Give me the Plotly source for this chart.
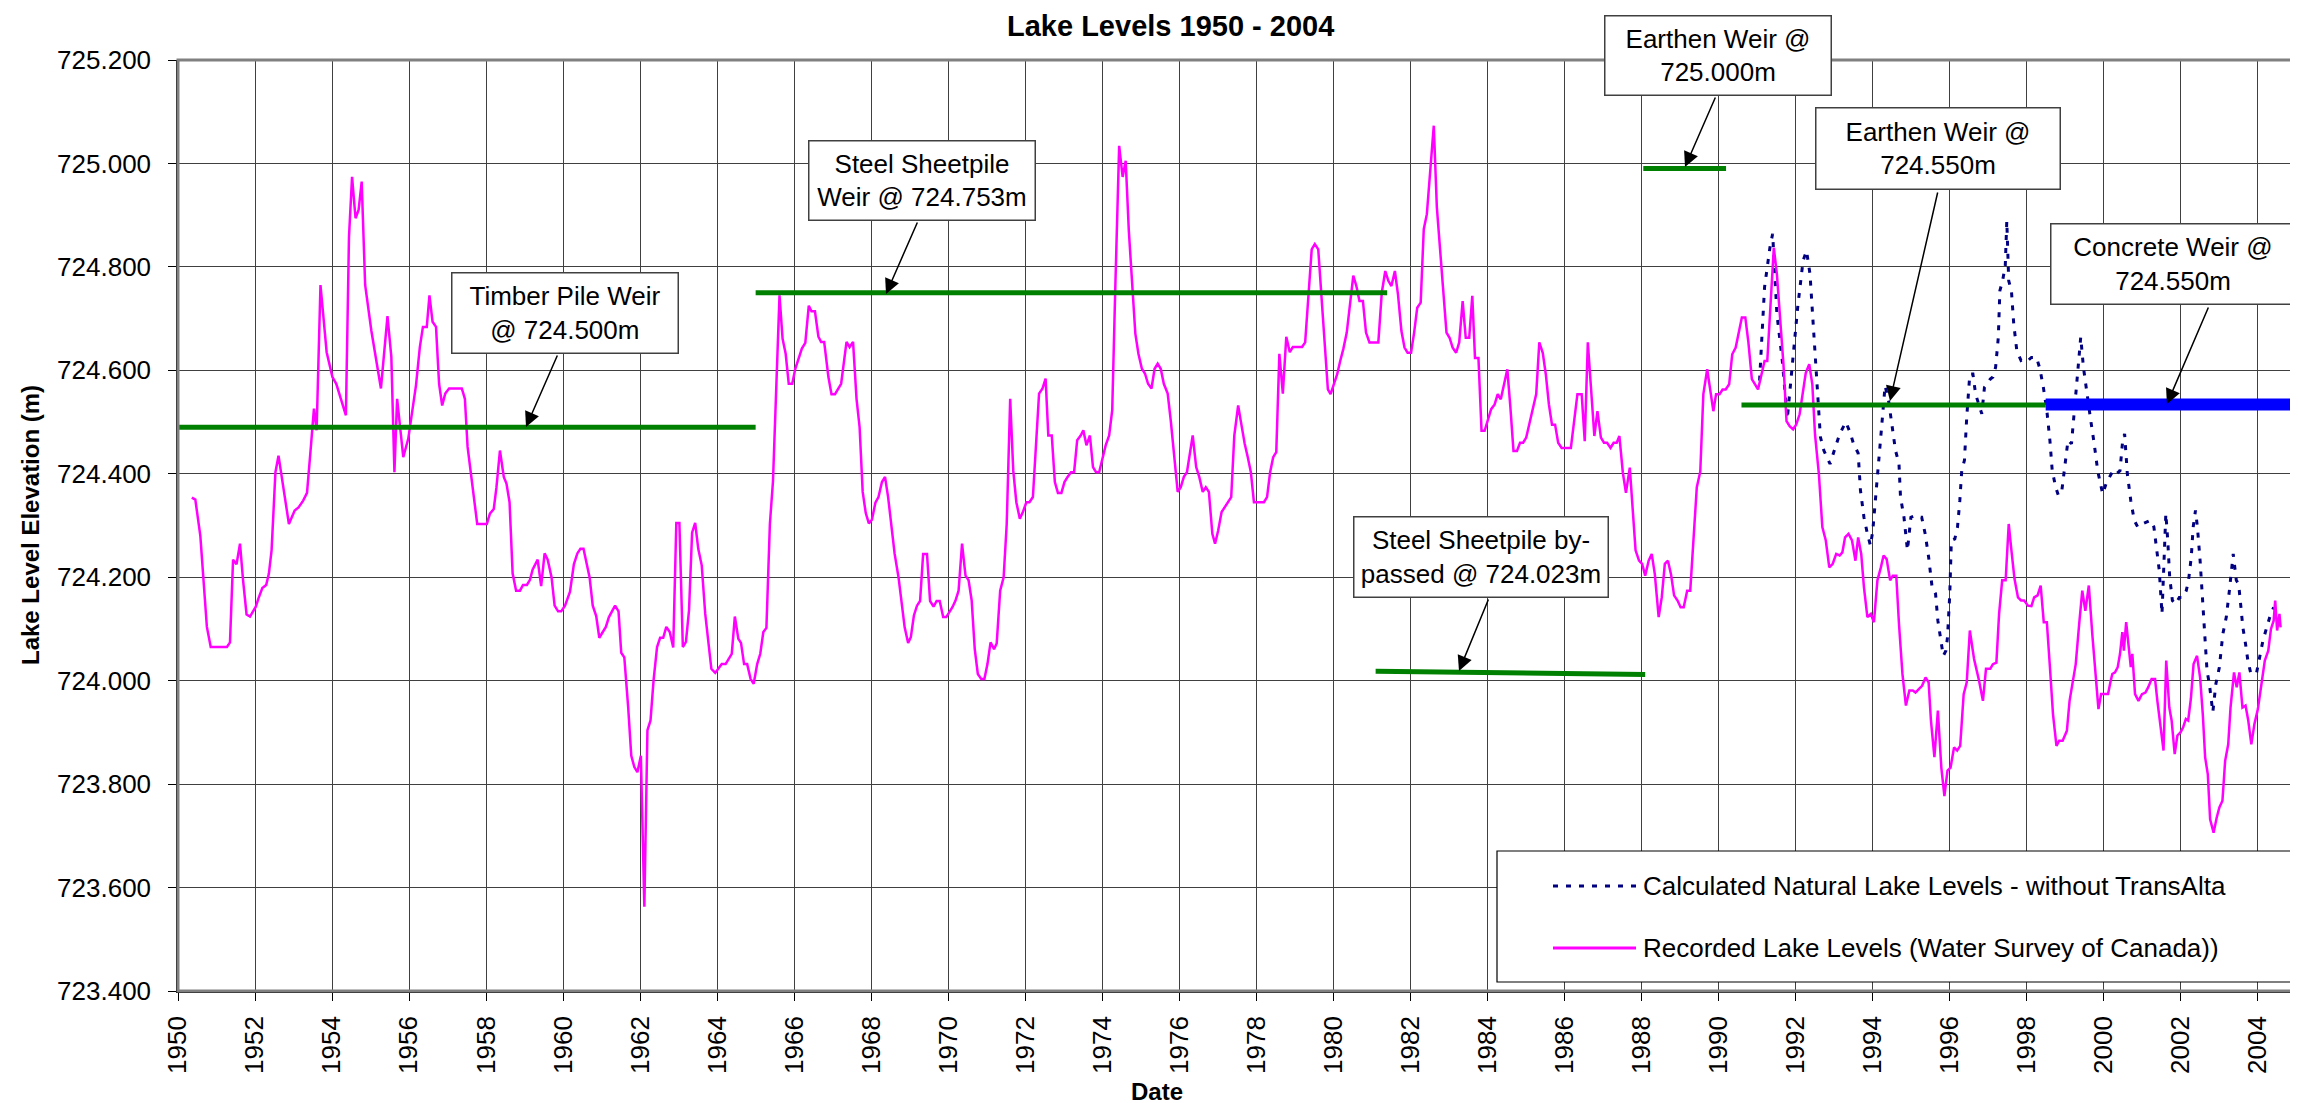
import plotly.graph_objects as go

# ---------------- data ----------------
recorded_year = [
    1950.36, 1950.45, 1950.58, 1950.75, 1950.85, 1951.27, 1951.35, 1951.43, 1951.52, 1951.61,
    1951.69, 1951.78, 1951.87, 1952.02, 1952.09, 1952.19, 1952.29, 1952.36, 1952.43, 1952.53,
    1952.61, 1952.76, 1952.88, 1953.03, 1953.13, 1953.25, 1953.35, 1953.45, 1953.53, 1953.60,
    1953.70, 1953.86, 1954.01, 1954.11, 1954.36, 1954.44, 1954.52, 1954.61, 1954.69, 1954.77,
    1954.86, 1955.02, 1955.27, 1955.44, 1955.54, 1955.62, 1955.69, 1955.85, 1955.98, 1956.18,
    1956.28, 1956.36, 1956.46, 1956.53, 1956.61, 1956.70, 1956.78, 1956.86, 1956.94, 1957.04,
    1957.37, 1957.45, 1957.52, 1957.77, 1958.02, 1958.10, 1958.20, 1958.27, 1958.36, 1958.46,
    1958.53, 1958.61, 1958.69, 1958.78, 1958.88, 1958.96, 1959.06, 1959.14, 1959.21, 1959.34,
    1959.43, 1959.52, 1959.60, 1959.70, 1959.78, 1959.87, 1959.95, 1960.05, 1960.18, 1960.28,
    1960.37, 1960.45, 1960.53, 1960.69, 1960.77, 1960.86, 1960.94, 1961.11, 1961.19, 1961.35,
    1961.44, 1961.51, 1961.59, 1961.69, 1961.77, 1961.85, 1961.93, 1962.02, 1962.11, 1962.19,
    1962.27, 1962.35, 1962.44, 1962.52, 1962.60, 1962.68, 1962.77, 1962.86, 1962.94, 1963.02,
    1963.11, 1963.19, 1963.27, 1963.35, 1963.43, 1963.51, 1963.60, 1963.69, 1963.85, 1963.95,
    1964.12, 1964.22, 1964.38, 1964.46, 1964.55, 1964.62, 1964.70, 1964.78, 1964.87, 1964.95,
    1965.04, 1965.12, 1965.20, 1965.28, 1965.37, 1965.45, 1965.54, 1965.62, 1965.70, 1965.78,
    1965.86, 1965.95, 1966.03, 1966.11, 1966.20, 1966.29, 1966.38, 1966.45, 1966.54, 1966.63,
    1966.70, 1966.78, 1966.89, 1966.97, 1967.06, 1967.22, 1967.36, 1967.44, 1967.53, 1967.62,
    1967.70, 1967.78, 1967.86, 1967.94, 1968.02, 1968.11, 1968.19, 1968.28, 1968.36, 1968.44,
    1968.61, 1968.71, 1968.79, 1968.87, 1968.96, 1969.03, 1969.11, 1969.19, 1969.27, 1969.35,
    1969.45, 1969.53, 1969.62, 1969.70, 1969.78, 1969.87, 1969.95, 1970.03, 1970.11, 1970.19,
    1970.27, 1970.36, 1970.45, 1970.53, 1970.61, 1970.69, 1970.77, 1970.86, 1970.94, 1971.02,
    1971.10, 1971.19, 1971.26, 1971.35, 1971.44, 1971.52, 1971.61, 1971.69, 1971.77, 1971.86,
    1971.94, 1972.03, 1972.11, 1972.20, 1972.28, 1972.36, 1972.45, 1972.53, 1972.60, 1972.69,
    1972.77, 1972.85, 1972.94, 1973.02, 1973.10, 1973.19, 1973.27, 1973.35, 1973.44, 1973.51,
    1973.59, 1973.68, 1973.76, 1973.84, 1973.92, 1974.01, 1974.09, 1974.18, 1974.26, 1974.34,
    1974.44, 1974.53, 1974.61, 1974.69, 1974.78, 1974.86, 1974.94, 1975.03, 1975.11, 1975.19,
    1975.28, 1975.36, 1975.44, 1975.52, 1975.60, 1975.70, 1975.78, 1975.87, 1975.96, 1976.04,
    1976.12, 1976.20, 1976.27, 1976.35, 1976.44, 1976.52, 1976.61, 1976.69, 1976.77, 1976.86,
    1976.93, 1977.01, 1977.10, 1977.18, 1977.26, 1977.35, 1977.43, 1977.53, 1977.61, 1977.70,
    1977.78, 1977.86, 1977.94, 1978.20, 1978.28, 1978.36, 1978.44, 1978.52, 1978.60, 1978.69,
    1978.78, 1978.87, 1978.95, 1979.19, 1979.27, 1979.36, 1979.44, 1979.52, 1979.61, 1979.69,
    1979.77, 1979.86, 1979.93, 1980.01, 1980.10, 1980.18, 1980.26, 1980.35, 1980.43, 1980.52,
    1980.60, 1980.68, 1980.77, 1980.85, 1980.94, 1981.17, 1981.26, 1981.35, 1981.43, 1981.51,
    1981.60, 1981.68, 1981.77, 1981.85, 1981.93, 1982.02, 1982.10, 1982.18, 1982.27, 1982.35,
    1982.43, 1982.51, 1982.61, 1982.69, 1982.77, 1982.85, 1982.94, 1983.02, 1983.10, 1983.19,
    1983.27, 1983.36, 1983.44, 1983.53, 1983.61, 1983.68, 1983.77, 1983.85, 1983.93, 1984.02,
    1984.10, 1984.19, 1984.27, 1984.35, 1984.43, 1984.52, 1984.60, 1984.68, 1984.77, 1984.85,
    1984.93, 1985.01, 1985.10, 1985.18, 1985.27, 1985.35, 1985.44, 1985.52, 1985.60, 1985.68,
    1985.76, 1985.84, 1985.93, 1986.17, 1986.26, 1986.34, 1986.45, 1986.53, 1986.61, 1986.69,
    1986.78, 1986.86, 1986.95, 1987.03, 1987.11, 1987.20, 1987.28, 1987.36, 1987.43, 1987.52,
    1987.60, 1987.70, 1987.77, 1987.85, 1987.94, 1988.02, 1988.10, 1988.19, 1988.27, 1988.35,
    1988.45, 1988.53, 1988.61, 1988.69, 1988.77, 1988.85, 1988.94, 1989.02, 1989.10, 1989.19,
    1989.27, 1989.36, 1989.44, 1989.53, 1989.61, 1989.71, 1989.79, 1989.87, 1989.94, 1990.03,
    1990.11, 1990.19, 1990.28, 1990.36, 1990.45, 1990.53, 1990.61, 1990.70, 1990.78, 1990.87,
    1990.95, 1991.03, 1991.12, 1991.20, 1991.27, 1991.36, 1991.44, 1991.52, 1991.60, 1991.69,
    1991.77, 1991.85, 1991.94, 1992.02, 1992.11, 1992.19, 1992.27, 1992.36, 1992.44, 1992.51,
    1992.61, 1992.70, 1992.79, 1992.88, 1992.97, 1993.06, 1993.15, 1993.22, 1993.29, 1993.38,
    1993.47, 1993.56, 1993.63, 1993.71, 1993.78, 1993.87, 1993.96, 1994.04, 1994.13, 1994.22,
    1994.29, 1994.37, 1994.46, 1994.53, 1994.62, 1994.69, 1994.78, 1994.87, 1994.96, 1995.05,
    1995.12, 1995.21, 1995.29, 1995.38, 1995.46, 1995.52, 1995.61, 1995.70, 1995.79, 1995.87,
    1995.95, 1996.03, 1996.12, 1996.20, 1996.28, 1996.37, 1996.45, 1996.53, 1996.64, 1996.77,
    1996.87, 1996.95, 1997.06, 1997.13, 1997.22, 1997.29, 1997.37, 1997.46, 1997.54, 1997.61,
    1997.69, 1997.78, 1997.86, 1997.94, 1998.04, 1998.13, 1998.20, 1998.29, 1998.37, 1998.45,
    1998.53, 1998.61, 1998.69, 1998.78, 1998.85, 1998.94, 1999.05, 1999.12, 1999.21, 1999.28,
    1999.37, 1999.45, 1999.53, 1999.62, 1999.71, 1999.80, 1999.87, 1999.94, 2000.03, 2000.12,
    2000.18, 2000.23, 2000.30, 2000.37, 2000.43, 2000.49, 2000.53, 2000.59, 2000.64, 2000.71,
    2000.75, 2000.82, 2000.91, 2001.00, 2001.09, 2001.16, 2001.25, 2001.34, 2001.40, 2001.47,
    2001.56, 2001.63, 2001.71, 2001.77, 2001.85, 2001.92, 2002.00, 2002.07, 2002.14, 2002.20,
    2002.27, 2002.34, 2002.43, 2002.51, 2002.58, 2002.64, 2002.71, 2002.77, 2002.86, 2002.94,
    2003.01, 2003.09, 2003.16, 2003.24, 2003.30, 2003.39, 2003.46, 2003.53, 2003.61, 2003.69,
    2003.76, 2003.84, 2003.92, 2004.01, 2004.10, 2004.19, 2004.28, 2004.35, 2004.42, 2004.46,
    2004.51, 2004.57, 2004.60,
]
recorded_level = [
    724.354, 724.350, 724.280, 724.104, 724.065, 724.065, 724.074, 724.234, 724.225, 724.265,
    724.194, 724.128, 724.124, 724.143, 724.159, 724.179, 724.185, 724.207, 724.252, 724.403,
    724.435, 724.361, 724.303, 724.329, 724.335, 724.348, 724.363, 724.452, 724.526, 724.484,
    724.765, 724.635, 724.587, 724.574, 724.513, 724.858, 724.974, 724.894, 724.910, 724.965,
    724.765, 724.677, 724.565, 724.705, 724.626, 724.403, 724.545, 724.432, 724.468, 724.571,
    724.645, 724.684, 724.684, 724.745, 724.694, 724.684, 724.574, 724.532, 724.555, 724.565,
    724.565, 724.545, 724.452, 724.303, 724.303, 724.323, 724.332, 724.374, 724.445, 724.394,
    724.381, 724.345, 724.207, 724.174, 724.174, 724.185, 724.185, 724.195, 724.215, 724.234,
    724.183, 724.246, 724.234, 724.200, 724.145, 724.134, 724.134, 724.145, 724.172, 724.225,
    724.246, 724.255, 724.255, 724.199, 724.145, 724.125, 724.083, 724.104, 724.123, 724.145,
    724.134, 724.054, 724.045, 723.949, 723.855, 723.833, 723.823, 723.855, 723.563, 723.904,
    723.923, 724.001, 724.065, 724.083, 724.083, 724.104, 724.094, 724.064, 724.305, 724.305,
    724.065, 724.075, 724.136, 724.286, 724.305, 724.255, 724.223, 724.130, 724.023, 724.015,
    724.032, 724.032, 724.052, 724.124, 724.081, 724.073, 724.032, 724.032, 724.003, 723.994,
    724.032, 724.052, 724.094, 724.102, 724.303, 724.385, 724.600, 724.745, 724.661, 724.632,
    724.574, 724.574, 724.603, 724.623, 724.642, 724.653, 724.725, 724.714, 724.714, 724.665,
    724.655, 724.655, 724.587, 724.554, 724.554, 724.574, 724.655, 724.645, 724.655, 724.545,
    724.490, 724.365, 724.324, 724.304, 724.311, 724.344, 724.355, 724.384, 724.394, 724.355,
    724.245, 724.200, 724.145, 724.103, 724.073, 724.084, 724.126, 724.145, 724.154, 724.245,
    724.245, 724.154, 724.143, 724.154, 724.154, 724.123, 724.123, 724.132, 724.142, 724.155,
    724.174, 724.265, 724.203, 724.194, 724.155, 724.061, 724.013, 724.003, 724.003, 724.032,
    724.074, 724.061, 724.072, 724.174, 724.200, 724.303, 724.545, 724.406, 724.345, 724.313,
    724.326, 724.345, 724.345, 724.355, 724.465, 724.555, 724.565, 724.584, 724.474, 724.474,
    724.384, 724.363, 724.363, 724.384, 724.394, 724.403, 724.403, 724.465, 724.474, 724.484,
    724.455, 724.474, 724.413, 724.403, 724.403, 724.432, 724.455, 724.474, 724.523, 724.761,
    725.034, 724.974, 725.005, 724.871, 724.761, 724.671, 724.632, 724.603, 724.594, 724.574,
    724.565, 724.603, 724.613, 724.603, 724.574, 724.555, 724.503, 724.439, 724.365, 724.374,
    724.394, 724.403, 724.439, 724.474, 724.413, 724.394, 724.365, 724.374, 724.365, 724.284,
    724.265, 724.290, 724.326, 724.335, 724.345, 724.355, 724.474, 724.532, 724.497, 724.458,
    724.432, 724.403, 724.345, 724.345, 724.355, 724.403, 724.432, 724.442, 724.632, 724.555,
    724.665, 724.635, 724.645, 724.645, 724.654, 724.747, 724.834, 724.844, 724.834, 724.747,
    724.654, 724.563, 724.554, 724.573, 724.592, 724.618, 724.641, 724.673, 724.721, 724.783,
    724.763, 724.734, 724.734, 724.673, 724.654, 724.654, 724.750, 724.792, 724.773, 724.763,
    724.792, 724.747, 724.676, 724.644, 724.634, 724.634, 724.673, 724.721, 724.731, 724.873,
    724.902, 724.973, 725.073, 724.915, 724.831, 724.760, 724.673, 724.663, 724.644, 724.634,
    724.654, 724.734, 724.663, 724.663, 724.744, 724.624, 724.624, 724.483, 724.483, 724.505,
    724.525, 724.534, 724.554, 724.544, 724.573, 724.602, 724.528, 724.444, 724.444, 724.460,
    724.460, 724.470, 724.499, 724.528, 724.554, 724.654, 724.634, 724.592, 724.534, 724.495,
    724.495, 724.460, 724.450, 724.450, 724.505, 724.554, 724.554, 724.463, 724.654, 724.573,
    724.473, 724.521, 724.470, 724.460, 724.460, 724.450, 724.460, 724.460, 724.473, 724.402,
    724.363, 724.412, 724.335, 724.252, 724.232, 724.226, 724.203, 724.232, 724.245, 724.206,
    724.123, 724.161, 724.226, 724.232, 724.206, 724.165, 724.155, 724.142, 724.142, 724.174,
    724.174, 724.284, 724.374, 724.404, 724.554, 724.602, 724.560, 724.521, 724.554, 724.554,
    724.563, 724.563, 724.573, 724.631, 724.644, 724.673, 724.702, 724.702, 724.654, 724.583,
    724.573, 724.563, 724.592, 724.618, 724.618, 724.734, 724.837, 724.786, 724.699, 724.612,
    724.502, 724.492, 724.486, 724.495, 724.515, 724.554, 724.595, 724.612, 724.573, 724.476,
    724.400, 724.297, 724.271, 724.219, 724.226, 724.245, 724.242, 724.248, 724.277, 724.284,
    724.271, 724.232, 724.277, 724.245, 724.181, 724.123, 724.129, 724.113, 724.194, 724.219,
    724.242, 724.235, 724.194, 724.203, 724.203, 724.110, 724.013, 723.952, 723.981, 723.981,
    723.977, 723.984, 723.990, 724.006, 723.997, 723.923, 723.852, 723.942, 723.832, 723.777,
    723.826, 723.832, 723.871, 723.865, 723.874, 723.974, 723.997, 724.097, 724.042, 724.000,
    723.961, 724.023, 724.023, 724.032, 724.035, 724.129, 724.194, 724.194, 724.303, 724.252,
    724.197, 724.161, 724.155, 724.155, 724.145, 724.144, 724.161, 724.165, 724.184, 724.113,
    724.113, 724.026, 723.935, 723.874, 723.884, 723.884, 723.903, 723.961, 724.000, 724.032,
    724.110, 724.174, 724.135, 724.184, 724.090, 724.000, 723.945, 723.974, 723.974, 723.974,
    723.997, 724.013, 724.016, 724.026, 724.052, 724.094, 724.058, 724.113, 724.077, 724.026,
    724.052, 723.974, 723.961, 723.974, 723.977, 723.987, 724.003, 724.003, 723.961, 723.916,
    723.865, 724.039, 723.948, 723.923, 723.858, 723.894, 723.900, 723.910, 723.926, 723.923,
    723.965, 724.032, 724.048, 724.006, 723.935, 723.852, 723.819, 723.732, 723.706, 723.735,
    723.755, 723.768, 723.845, 723.877, 723.948, 724.016, 723.987, 724.016, 723.948, 723.952,
    723.923, 723.877, 723.916, 723.945, 723.994, 724.039, 724.058, 724.100, 724.116, 724.155,
    724.097, 724.129, 724.103,
]

natural_year = [
    1991.07, 1991.20, 1991.34, 1991.41, 1991.52, 1991.66, 1991.79, 1991.93, 1992.06, 1992.20,
    1992.29, 1992.38, 1992.47, 1992.56, 1992.65, 1992.74, 1992.90, 1993.01, 1993.15, 1993.31,
    1993.42, 1993.51, 1993.63, 1993.69, 1993.78, 1993.87, 1993.95, 1994.01, 1994.10, 1994.19,
    1994.25, 1994.33, 1994.42, 1994.51, 1994.60, 1994.69, 1994.73, 1994.82, 1994.91, 1995.00,
    1995.10, 1995.19, 1995.28, 1995.37, 1995.46, 1995.55, 1995.64, 1995.70, 1995.77, 1995.84,
    1995.91, 1995.95, 1996.01, 1996.05, 1996.14, 1996.21, 1996.27, 1996.32, 1996.39, 1996.45,
    1996.53, 1996.61, 1996.68, 1996.77, 1996.84, 1996.91, 1996.99, 1997.06, 1997.13, 1997.20,
    1997.27, 1997.31, 1997.38, 1997.45, 1997.49, 1997.54, 1997.61, 1997.67, 1997.75, 1997.86,
    1997.95, 1998.04, 1998.13, 1998.26, 1998.35, 1998.44, 1998.53, 1998.61, 1998.67, 1998.76,
    1998.83, 1998.92, 1999.01, 1999.08, 1999.17, 1999.23, 1999.30, 1999.38, 1999.41, 1999.48,
    1999.57, 1999.67, 1999.76, 1999.85, 1999.98, 2000.07, 2000.16, 2000.25, 2000.34, 2000.43,
    2000.50, 2000.55, 2000.62, 2000.71, 2000.80, 2000.89, 2001.00, 2001.11, 2001.22, 2001.31,
    2001.38, 2001.45, 2001.52, 2001.58, 2001.62, 2001.67, 2001.72, 2001.79, 2001.88, 2001.97,
    2002.06, 2002.15, 2002.21, 2002.28, 2002.33, 2002.39, 2002.44, 2002.51, 2002.58, 2002.63,
    2002.69, 2002.75, 2002.84, 2002.92, 2003.01, 2003.10, 2003.19, 2003.27, 2003.33, 2003.37,
    2003.45, 2003.51, 2003.57, 2003.62, 2003.69, 2003.75, 2003.82, 2003.90, 2003.97, 2004.05,
    2004.14, 2004.24, 2004.32, 2004.42,
]
natural_level = [
    724.580, 724.761, 724.838, 724.864, 724.709, 724.619, 724.506, 724.625, 724.722, 724.812,
    724.831, 724.786, 724.683, 724.561, 724.471, 724.445, 724.419, 724.445, 724.477, 724.500,
    724.480, 724.458, 724.440, 724.368, 724.316, 724.284, 724.261, 724.290, 724.368, 724.445,
    724.509, 724.570, 724.541, 724.490, 724.445, 724.420, 724.355, 724.316, 724.252, 724.316,
    724.319, 724.316, 724.316, 724.284, 724.239, 724.181, 724.168, 724.116, 724.077, 724.048,
    724.058, 724.084, 724.168, 724.271, 724.274, 724.297, 724.348, 724.406, 724.426, 724.510,
    724.593, 724.593, 724.554, 724.535, 724.516, 724.567, 724.574, 724.583, 724.587, 724.606,
    724.664, 724.754, 724.773, 724.802, 724.889, 724.773, 724.754, 724.690, 724.638, 724.619,
    724.622, 724.619, 724.625, 724.625, 724.603, 724.567, 724.522, 724.464, 724.406, 724.374,
    724.358, 724.368, 724.419, 724.465, 724.458, 724.509, 724.574, 724.645, 724.664, 724.606,
    724.554, 724.503, 724.458, 724.406, 724.361, 724.381, 724.394, 724.406, 724.400, 724.406,
    724.465, 724.477, 724.400, 724.348, 724.310, 724.297, 724.303, 724.306, 724.310, 724.297,
    724.258, 724.213, 724.129, 724.239, 724.323, 724.271, 724.200, 724.155, 724.148, 724.161,
    724.161, 724.174, 724.194, 724.239, 724.297, 724.329, 724.297, 724.232, 724.155, 724.090,
    724.019, 723.994, 723.939, 723.994, 724.026, 724.090, 724.123, 724.174, 724.226, 724.245,
    724.194, 724.187, 724.142, 724.103, 724.071, 724.039, 724.016, 724.013, 724.013, 724.045,
    724.077, 724.103, 724.123, 724.142,
]

# weir crest lines (year span, elevation)
timber_year = [1950.0, 1965.0]
timber_level = [724.49, 724.49]
steel_year = [1965.0, 1981.4]
steel_level = [724.75, 724.75]
bypass_year = [1981.1, 1988.1]
bypass_level = [724.018, 724.012]
earthen1_year = [1988.05, 1990.2]
earthen1_level = [724.99, 724.99]
earthen2_year = [1990.6, 1998.5]
earthen2_level = [724.533, 724.533]
concrete_year = [1998.5, 2005.0]
concrete_level = [724.534, 724.534]

year_ticks = list(range(1950, 2005, 2))
level_ticks = [723.4, 723.6, 723.8, 724.0, 724.2, 724.4, 724.6, 724.8, 725.0, 725.2]

# ---------------- layout geometry ----------------
W, H = 2298, 1103
ML, MR, MT, MB = 170, 10, 52, 120
PW, PH = W - ML - MR, H - MT - MB
X0, X1 = 1950.0, 2005.0
Y0, Y1 = 723.4, 725.2
FONT = "Liberation Sans, Arial, sans-serif"


def px2x(px):
    return X0 + (px - ML) / PW * (X1 - X0)


def py2y(py):
    return Y1 - (py - MT) / PH * (Y1 - Y0)


def px2p(px):
    return (px - ML) / PW


def py2p(py):
    return (H - MB - py) / PH


fig = go.Figure()

fig.add_trace(go.Scatter(
    x=natural_year, y=natural_level, mode="lines",
    name="Calculated Natural Lake Levels - without TransAlta",
    line=dict(color="#000080", width=3, dash="5px,8px"), showlegend=False))
fig.add_trace(go.Scatter(
    x=recorded_year, y=recorded_level, mode="lines",
    name="Recorded Lake Levels (Water Survey of Canada))",
    line=dict(color="#FF00FF", width=2.5), showlegend=False))

for xs, ys in [(timber_year, timber_level), (steel_year, steel_level),
               (bypass_year, bypass_level), (earthen1_year, earthen1_level),
               (earthen2_year, earthen2_level)]:
    fig.add_trace(go.Scatter(x=xs, y=ys, mode="lines", showlegend=False,
                             line=dict(color="#008000", width=5), hoverinfo="skip"))
fig.add_trace(go.Scatter(x=concrete_year, y=concrete_level, mode="lines", showlegend=False,
                         line=dict(color="#0000FF", width=12), hoverinfo="skip"))

annotations = []
# boxed labels: (text, box left, top, right, bottom) in pixels
boxes = [
    ("Timber Pile Weir<br>@ 724.500m", 443, 264, 671, 346),
    ("Steel Sheetpile<br>Weir @ 724.753m", 800, 132, 1028, 213),
    ("Earthen Weir @<br>725.000m", 1596, 7, 1824, 88),
    ("Earthen Weir @<br>724.550m", 1807, 99, 2053, 182),
    ("Concrete Weir @<br>724.550m", 2042, 215, 2288, 297),
    ("Steel Sheetpile by-<br>passed @ 724.023m", 1345, 508, 1601, 590),
]
for text, l, t, r, b in boxes:
    annotations.append(dict(
        text=text, xref="paper", yref="paper", x=px2p((l + r) / 2), y=py2p((t + b) / 2),
        xanchor="center", yanchor="middle", showarrow=False,
        width=r - l - 3, height=b - t - 3, borderpad=0,
        bordercolor="#404040", borderwidth=1.5, bgcolor="white",
        font=dict(family=FONT, size=26, color="black"), align="center"))

# arrows: tail (px), head (px)
arrows = [
    ((550, 346), (518, 419)),
    ((910, 213), (878, 286)),
    ((1708, 88), (1677, 159)),
    ((1930, 183), (1882, 393)),
    ((2201, 298), (2159, 396)),
    ((1481, 590), (1451, 663)),
]
for (tx, ty), (hx, hy) in arrows:
    annotations.append(dict(
        text="", xref="x", yref="y", axref="x", ayref="y",
        x=px2x(hx), y=py2y(hy), ax=px2x(tx), ay=py2y(ty),
        showarrow=True, arrowhead=2, arrowsize=2, arrowwidth=1.5,
        arrowcolor="black", standoff=0, startstandoff=0))

# title and axis titles
annotations.append(dict(text="<b>Lake Levels 1950 - 2004</b>", xref="paper", yref="paper",
                        x=px2p(1162), y=py2p(0), xanchor="center", yanchor="top",
                        showarrow=False, font=dict(family=FONT, size=29, color="black")))
annotations.append(dict(text="<b>Lake Level Elevation (m)</b>", xref="paper", yref="paper",
                        x=px2p(22), y=py2p(517), xanchor="center", yanchor="middle",
                        textangle=-90, showarrow=False,
                        font=dict(family=FONT, size=24, color="black")))
annotations.append(dict(text="<b>Date</b>", xref="paper", yref="paper",
                        x=px2p(1149), y=py2p(1083), xanchor="center", yanchor="middle",
                        showarrow=False, font=dict(family=FONT, size=24, color="black")))

# legend (drawn box)
legend_items = [
    ("Calculated Natural Lake Levels - without TransAlta", "#000080", "5px,8px", 3, 878),
    ("Recorded Lake Levels (Water Survey of Canada))", "#FF00FF", "solid", 3, 940),
]
shapes = [
    dict(type="rect", xref="paper", yref="paper", x0=0, x1=1, y0=0, y1=1,
         line=dict(color="#808080", width=3), layer="above"),
    dict(type="rect", xref="paper", yref="paper",
         x0=px2p(1489), x1=px2p(2283), y0=py2p(974), y1=py2p(843),
         line=dict(color="black", width=1.2), fillcolor="white", layer="above"),
]
for text, color, dash, lw, ypx in legend_items:
    shapes.append(dict(type="line", xref="paper", yref="paper",
                       x0=px2p(1545), x1=px2p(1628), y0=py2p(ypx), y1=py2p(ypx),
                       line=dict(color=color, width=lw, dash=dash), layer="above"))
    annotations.append(dict(text=text, xref="paper", yref="paper",
                            x=px2p(1633), y=py2p(ypx), xanchor="left", yanchor="middle",
                            showarrow=False, font=dict(family=FONT, size=26, color="black")))

fig.update_layout(
    width=W, height=H, margin=dict(l=ML, r=MR, t=MT, b=MB, autoexpand=False),
    paper_bgcolor="white", plot_bgcolor="white", showlegend=False,
    font=dict(family=FONT, size=26, color="black"),
    annotations=annotations, shapes=shapes,
    xaxis=dict(range=[X0, X1], tickmode="array", tickvals=year_ticks,
               ticktext=[str(y) for y in year_ticks], tickangle=-90,
               showgrid=True, gridcolor="#404040", gridwidth=1,
               showline=True, linecolor="black", linewidth=1.5,
               ticks="outside", ticklen=8, tickwidth=1, tickcolor="black",
               ticklabelstandoff=5,
               zeroline=False, tickfont=dict(family=FONT, size=26, color="black")),
    yaxis=dict(range=[Y0, Y1], tickmode="array", tickvals=level_ticks,
               ticktext=[f"{v:.3f}" for v in level_ticks],
               showgrid=True, gridcolor="#404040", gridwidth=1,
               showline=True, linecolor="black", linewidth=1.5,
               ticks="outside", ticklen=8, tickwidth=1, tickcolor="black",
               ticklabelstandoff=12,
               zeroline=False, tickfont=dict(family=FONT, size=26, color="black")),
)

fig.write_html("out.html")
